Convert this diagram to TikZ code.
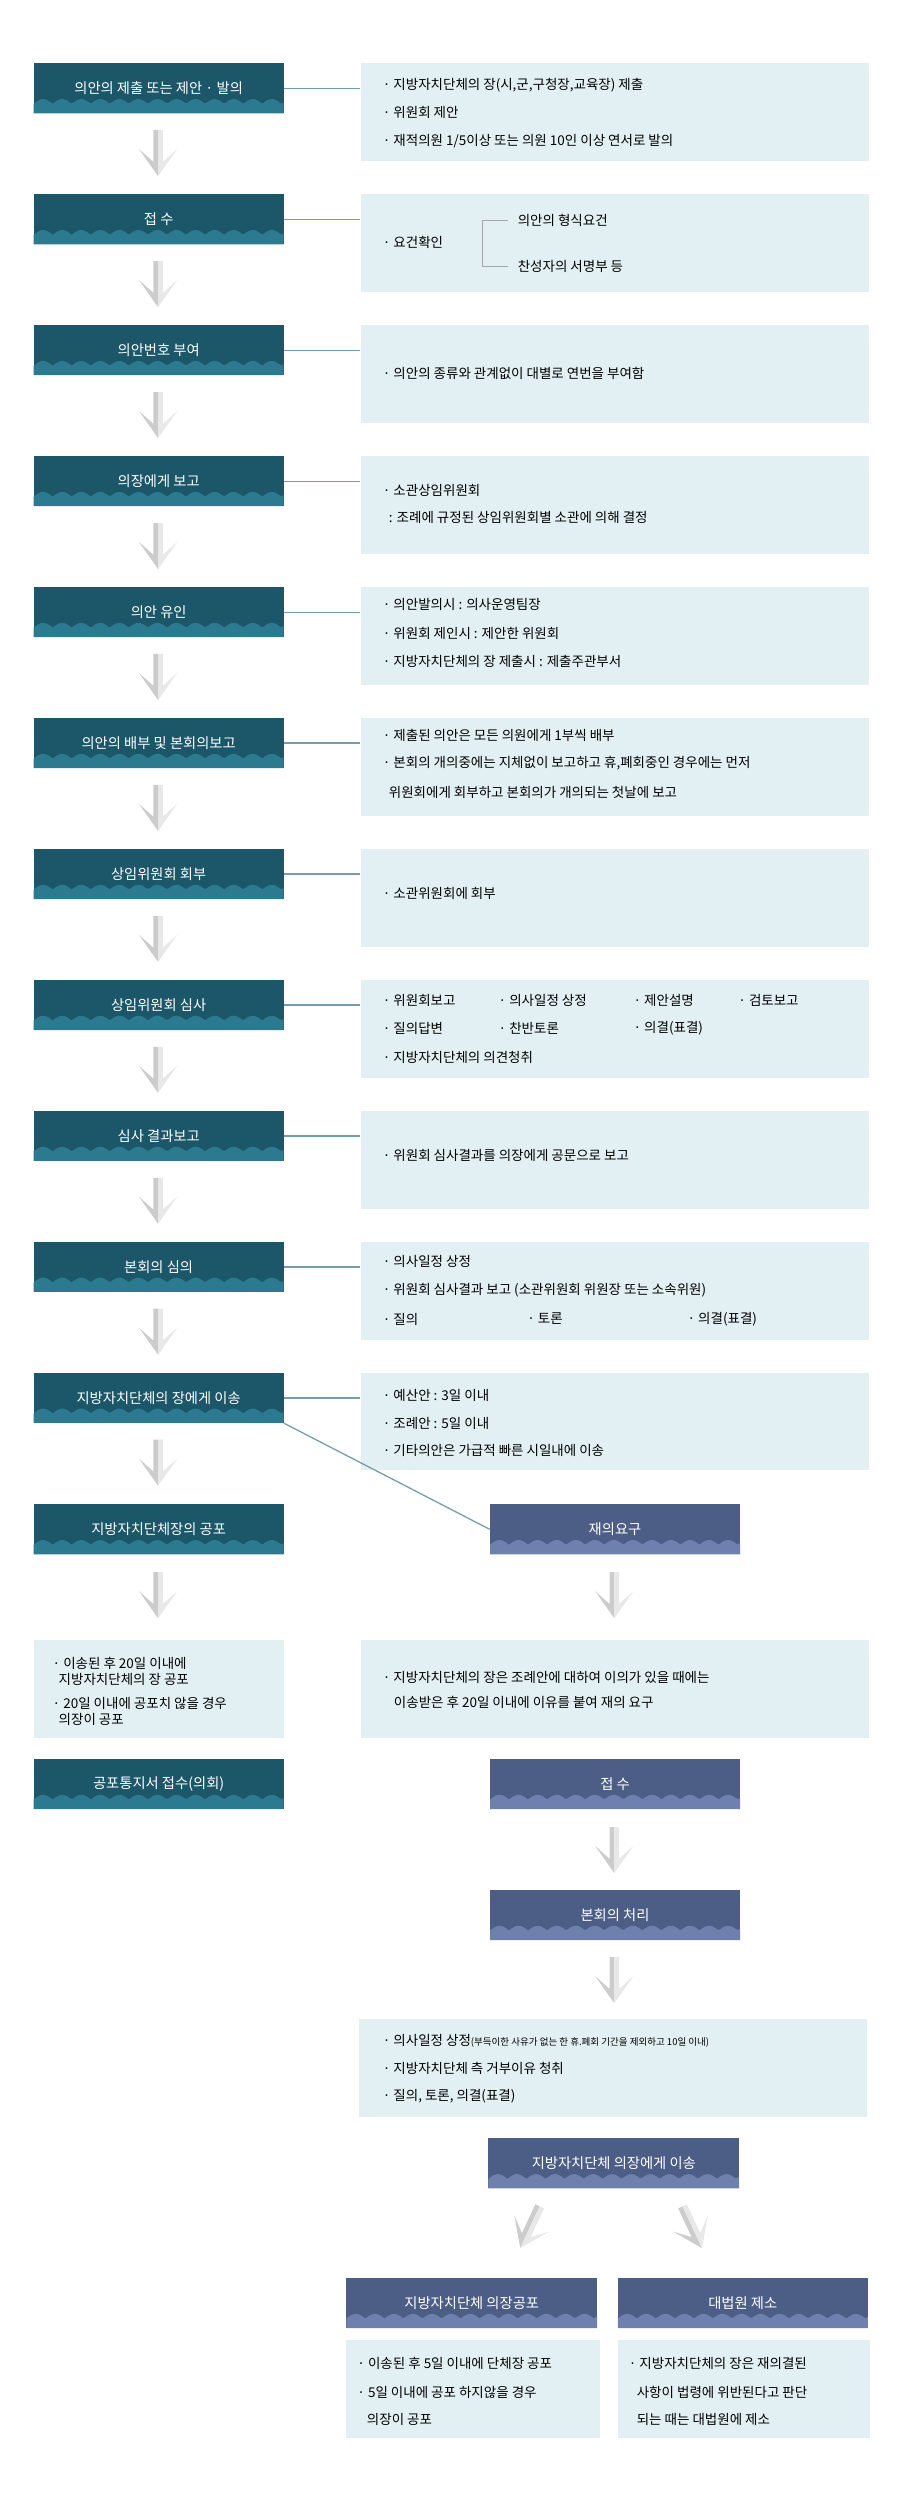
\documentclass[tikz,border=0pt]{standalone}
\usepackage{fontspec}
\setmainfont{Noto Sans CJK KR}
\usetikzlibrary{calc}
\definecolor{tealdark}{HTML}{1B5768}
\definecolor{teallight}{HTML}{2B7A8F}
\definecolor{navydark}{HTML}{4D5E86}
\definecolor{navylight}{HTML}{6E80AD}
\definecolor{descfill}{HTML}{E2F0F4}
\definecolor{linkcol}{HTML}{4F8596}
\tikzset{
  wavefill/.style={path picture={
    \path (path picture bounding box.south west) coordinate (pw1)
          (path picture bounding box.north east) coordinate (pw2);
    \fill[#1] let \p1=(pw1),\p2=(pw2) in (\x1,\y1) --
      plot[domain={\x1}:{\x2},samples=120,variable=\t]
        ({\t*1pt},{\y1+6pt+3pt*abs(sin((\t-\x1)/12*180))}) -- (\x2,\y1) -- cycle;}},
  hdr/.style={anchor=north west, inner sep=0pt, minimum height=31.5pt,
    text=white, font=\fontsize{9}{10}\selectfont, fill=tealdark, wavefill=teallight},
  hdrb/.style={hdr, fill=navydark, wavefill=navylight},
  descbox/.style={anchor=north west, inner sep=0pt, fill=descfill, minimum height=61.5pt},
  item/.style={anchor=west, inner sep=0pt, font=\fontsize{8.5}{12}\selectfont, align=left},
  linkline/.style={linkcol!80, line width=0.8pt},
  grayarr/.pic={
    \fill[gray!40] (0,0) -- (-3,0) -- (-3,20) -- (-12,12) -- (0,29) -- cycle;
    \fill[gray!18] (0,0) -- (3,0) -- (3,20) -- (12,12) -- (0,29) -- cycle;
  }
}
\begin{document}
\begin{tikzpicture}[x=1pt,y=-1pt]
\useasboundingbox[fill=white] (0,0) rectangle (567,1575);
% left column of steps
\foreach \i/\txt in {1/의안의 제출 또는 제안 · 발의, 2/접 수, 3/의안번호 부여, 4/의장에게 보고,
  5/의안 유인, 6/의안의 배부 및 본회의보고, 7/상임위원회 회부, 8/상임위원회 심사,
  9/심사 결과보고, 10/본회의 심의, 11/지방자치단체의 장에게 이송}{
  \node[hdr, minimum width=157.5pt] (h\i) at (21,{39.7+82.5*(\i-1)}) {\txt};
  \node[descbox, minimum width=320pt] (d\i) at (227,{39.7+82.5*(\i-1)}) {};
  \draw[linkline] (h\i.east) -- (d\i.west |- h\i.east);
  \pic at (99.6,{82+82.5*(\i-1)}) {grayarr};
}
% texts of the right boxes
\node[item] (t1a) at (241,53.6) {· 지방자치단체의 장(시,군,구청장,교육장) 제출};
\node[item] (t1b) at (241,71) {· 위원회 제안};
\node[item] (t1c) at (241,89) {· 재적의원 1/5이상 또는 의원 10인 이상 연서로 발의};
\node[item] (t2a) at (241,152.5) {· 요건확인};
\node[item] (t2b) at (326,139) {의안의 형식요건};
\node[item] (t2c) at (326,168) {찬성자의 서명부 등};
\draw[gray!70, line width=0.6pt] ($(t2b.west)+(-6,0)$) -- (304,139) -- (304,168) -- ($(t2c.west)+(-6,0)$);
\node[item] (t3a) at (241,235) {· 의안의 종류와 관계없이 대별로 연번을 부여함};
\node[item] (t4a) at (241,309) {· 소관상임위원회};
\node[item] (t4b) at (241,326) {\ \ : 조례에 규정된 상임위원회별 소관에 의해 결정};
\node[item] (t5a) at (241,381) {· 의안발의시 : 의사운영팀장};
\node[item] (t5b) at (241,399) {· 위원회 제인시 : 제안한 위원회};
\node[item] (t5c) at (241,417) {· 지방자치단체의 장 제출시 : 제출주관부서};
\node[item] (t6a) at (241,463) {· 제출된 의안은 모든 의원에게 1부씩 배부};
\node[item] (t6b) at (241,481) {· 본회의 개의중에는 지체없이 보고하고 휴,폐회중인 경우에는 먼저};
\node[item] (t6c) at (241,499) {\ \ 위원회에게 회부하고 본회의가 개의되는 첫날에 보고};
\node[item] (t7a) at (241,563) {· 소관위원회에 회부};
\node[item] (t8a) at (241,630) {· 위원회보고};
\node[item] (t8b) at (314,630) {· 의사일정 상정};
\node[item] (t8c) at (399,630) {· 제안설명};
\node[item] (t8d) at (465,630) {· 검토보고};
\node[item] (t8e) at (241,648) {· 질의답변};
\node[item] (t8f) at (314,648) {· 찬반토론};
\node[item] (t8g) at (399,648) {· 의결(표결)};
\node[item] (t8h) at (241,666) {· 지방자치단체의 의견청취};
\node[item] (t9a) at (241,728) {· 위원회 심사결과를 의장에게 공문으로 보고};
\node[item] (t10a) at (241,795) {· 의사일정 상정};
\node[item] (t10b) at (241,813) {· 위원회 심사결과 보고 (소관위원회 위원장 또는 소속위원)};
\node[item] (t10c) at (241,831) {· 질의};
\node[item] (t10d) at (332,831) {· 토론};
\node[item] (t10e) at (433,831) {· 의결(표결)};
\node[item] (t11a) at (241,879) {· 예산안 : 3일 이내};
\node[item] (t11b) at (241,896.5) {· 조례안 : 5일 이내};
\node[item] (t11c) at (241,914) {· 기타의안은 가급적 빠른 시일내에 이송};
% promulgation branch
\node[hdr, minimum width=157.5pt] (h12) at (21,947.5) {지방자치단체장의 공포};
\pic at (99.6,990.5) {grayarr};
\node[descbox, minimum width=157.5pt] (d12) at (21,1033) {};
\node[item, font=\fontsize{8.5}{10}\selectfont] (t12a) at (33,1053) {· 이송된 후 20일 이내에\\\ \ 지방자치단체의 장 공포};
\node[item, font=\fontsize{8.5}{10}\selectfont] (t12b) at (33,1078) {· 20일 이내에 공포치 않을 경우\\\ \ 의장이 공포};
\node[hdr, minimum width=157.5pt] (h13) at (21,1108) {공포통지서 접수(의회)};
% reconsideration branch
\node[hdrb, minimum width=157.5pt] (r1) at (308.5,947.5) {재의요구};
\draw[linkline] (h11.south east) -- (r1.west);
\pic at (387,990.5) {grayarr};
\node[descbox, minimum width=320pt] (e1) at (227,1033) {};
\node[item] (u1a) at (241,1057) {· 지방자치단체의 장은 조례안에 대하여 이의가 있을 때에는};
\node[item] (u1b) at (248,1072.5) {이송받은 후 20일 이내에 이유를 붙여 재의 요구};
\node[hdrb, minimum width=157.5pt] (r2) at (308.5,1108) {접 수};
\pic at (387,1151) {grayarr};
\node[hdrb, minimum width=157.5pt] (r3) at (308.5,1190.5) {본회의 처리};
\pic at (387,1233) {grayarr};
\node[descbox, minimum width=320pt] (e2) at (226,1272) {};
\node[item] (u2a) at (241,1285.5) {· 의사일정 상정{\fontsize{6}{7}\selectfont(부득이한 사유가 없는 한 휴.폐회 기간을 제외하고 10일 이내)}};
\node[item] (u2b) at (241,1303) {· 지방자치단체 측 거부이유 청취};
\node[item] (u2c) at (241,1320.7) {· 질의, 토론, 의결(표결)};
\node[hdrb, minimum width=158pt] (r4) at (307.5,1347) {지방자치단체 의장에게 이송};
\pic[rotate=-25] at (340,1390) {grayarr};
\pic[rotate=25] at (430,1390) {grayarr};
\node[hdrb, minimum width=158pt] (r5) at (218,1435) {지방자치단체 의장공포};
\node[hdrb, minimum width=157.5pt] (r6) at (389,1435) {대법원 제소};
\node[descbox, minimum width=160pt] (e3) at (218,1474) {};
\node[descbox, minimum width=159pt] (e4) at (389,1474) {};
\node[item] (u3a) at (225,1489) {· 이송된 후 5일 이내에 단체장 공포};
\node[item] (u3b) at (225,1507) {· 5일 이내에 공포 하지않을 경우};
\node[item] (u3c) at (231,1524) {의장이 공포};
\node[item] (u4a) at (396,1489) {· 지방자치단체의 장은 재의결된};
\node[item] (u4b) at (401,1507) {사항이 법령에 위반된다고 판단};
\node[item] (u4c) at (401,1524) {되는 때는 대법원에 제소};
\end{tikzpicture}
\end{document}
